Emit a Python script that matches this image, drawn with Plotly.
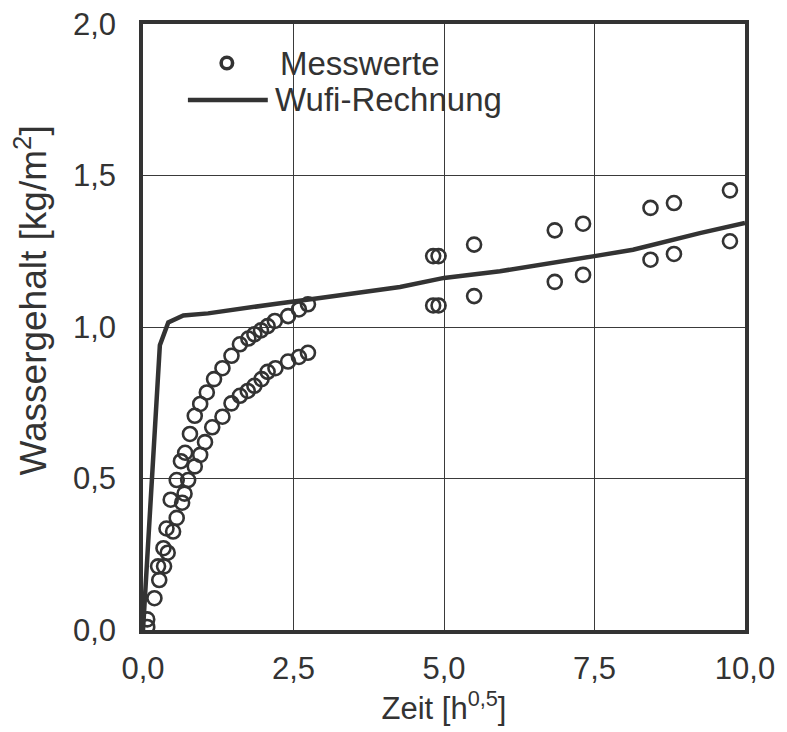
import plotly.graph_objects as go

# Messwerte (measured values)
mess_x = [0.07, 0.07, 0.19, 0.27, 0.25, 0.35, 0.34, 0.41, 0.39, 0.50, 0.56, 0.46, 0.65, 0.69,
          0.56, 0.75, 0.63, 0.86, 0.70, 0.95,
          0.78, 0.86, 0.95, 1.06, 1.18, 1.32, 1.47, 1.61, 1.75, 1.85, 1.96, 2.07, 2.19, 2.41, 2.59, 2.74,
          1.03, 1.15, 1.32, 1.47, 1.61, 1.74, 1.85, 1.97, 2.07, 2.20, 2.41, 2.59, 2.74,
          4.82, 4.91, 4.82, 4.91, 5.50, 5.50, 6.84, 6.84, 7.31, 7.31, 8.43, 8.43, 8.82, 8.82, 9.75, 9.75]
mess_y = [0.010, 0.035, 0.105, 0.165, 0.210, 0.210, 0.270, 0.255, 0.335, 0.325, 0.370, 0.430, 0.420, 0.450,
          0.495, 0.495, 0.557, 0.540, 0.585, 0.578,
          0.647, 0.707, 0.746, 0.784, 0.828, 0.864, 0.905, 0.943, 0.962, 0.976, 0.989, 1.003, 1.020, 1.036, 1.058, 1.075,
          0.620, 0.669, 0.704, 0.748, 0.773, 0.789, 0.806, 0.828, 0.852, 0.864, 0.886, 0.901, 0.915,
          1.234, 1.234, 1.071, 1.071, 1.272, 1.102, 1.319, 1.149, 1.341, 1.172, 1.393, 1.222, 1.409, 1.241, 1.451, 1.283]

# Wufi-Rechnung (simulation)
wufi_x = [0.0, 0.28, 0.42, 0.67, 1.08, 1.50, 1.89, 2.22, 2.94, 4.27, 5.00, 5.93, 7.50, 8.14, 9.25, 10.0]
wufi_y = [0.0, 0.94, 1.015, 1.038, 1.045, 1.058, 1.069, 1.077, 1.096, 1.132, 1.162, 1.184, 1.234, 1.255, 1.310, 1.343]

x_ticks = [0, 2.5, 5, 7.5, 10]
x_ticktext = ["0,0", "2,5", "5,0", "7,5", "10,0"]
y_ticks = [0, 0.5, 1.0, 1.5, 2.0]
y_ticktext = ["0,0", "0,5", "1,0", "1,5", "2,0"]
legend_names = ["Messwerte", "Wufi-Rechnung"]
x_title = "Zeit [h<sup>0,5</sup>]"
y_title = "Wassergehalt [kg/m<sup>2</sup>]"

dark = "#333333"
font_main = "Liberation Sans, Arial, sans-serif"

fig = go.Figure()
fig.add_trace(go.Scatter(
    x=mess_x, y=mess_y, mode="markers", name=legend_names[0], showlegend=False,
    marker=dict(symbol="circle-open", size=14, color=dark, line=dict(width=2.6, color=dark)),
))
fig.add_trace(go.Scatter(
    x=wufi_x, y=wufi_y, mode="lines", name=legend_names[1], showlegend=False,
    line=dict(color=dark, width=4.5),
))

# Hand-drawn legend (paper coordinates) to match the reference's long line sample
row1, row2 = 0.9356, 0.8746
r = 0.0095
shapes = [
    dict(type="circle", xref="paper", yref="paper",
         x0=0.1393 - r, x1=0.1393 + r, y0=row1 - r, y1=row1 + r,
         line=dict(color=dark, width=3.6), fillcolor="white", layer="above"),
    dict(type="line", xref="paper", yref="paper",
         x0=0.0746, x1=0.2073, y0=row2, y1=row2,
         line=dict(color=dark, width=4.5), layer="above"),
]
annotations = [
    dict(text=legend_names[0], xref="paper", yref="paper", x=0.2239, y=row1,
         xanchor="left", yanchor="middle", showarrow=False,
         font=dict(family=font_main, size=33, color=dark)),
    dict(text=legend_names[1], xref="paper", yref="paper", x=0.2156, y=row2,
         xanchor="left", yanchor="middle", showarrow=False,
         font=dict(family=font_main, size=33, color=dark)),
    dict(text=y_title, xref="paper", yref="paper", x=-0.1850, y=0.543,
         xanchor="center", yanchor="middle", textangle=-90, showarrow=False,
         font=dict(family=font_main, size=37, color=dark)),
]

fig.update_layout(
    width=787, height=732,
    margin=dict(l=135, r=50, t=16, b=110),
    paper_bgcolor="white", plot_bgcolor="white",
    showlegend=False,
    shapes=shapes, annotations=annotations,
    font=dict(family=font_main, color=dark),
)
fig.update_xaxes(
    range=[0, 10], tickvals=x_ticks, ticktext=x_ticktext,
    tickfont=dict(family=font_main, size=31, color=dark),
    showgrid=True, gridcolor="#3a3a3a", gridwidth=1.4,
    showline=True, linecolor=dark, linewidth=3.5, mirror=True,
    ticks="", zeroline=False, automargin=False, ticklabelstandoff=8,
    ticklabeloverflow="allow",
    title=dict(text=x_title, font=dict(family=font_main, size=31, color=dark), standoff=12),
)
fig.update_yaxes(
    range=[0, 2], tickvals=y_ticks, ticktext=y_ticktext,
    tickfont=dict(family=font_main, size=31, color=dark),
    showgrid=True, gridcolor="#3a3a3a", gridwidth=1.4,
    showline=True, linecolor=dark, linewidth=3.5, mirror=True,
    ticks="", zeroline=False, automargin=False, ticklabelstandoff=17,
    ticklabeloverflow="allow",
)

fig.write_html("out.html")
